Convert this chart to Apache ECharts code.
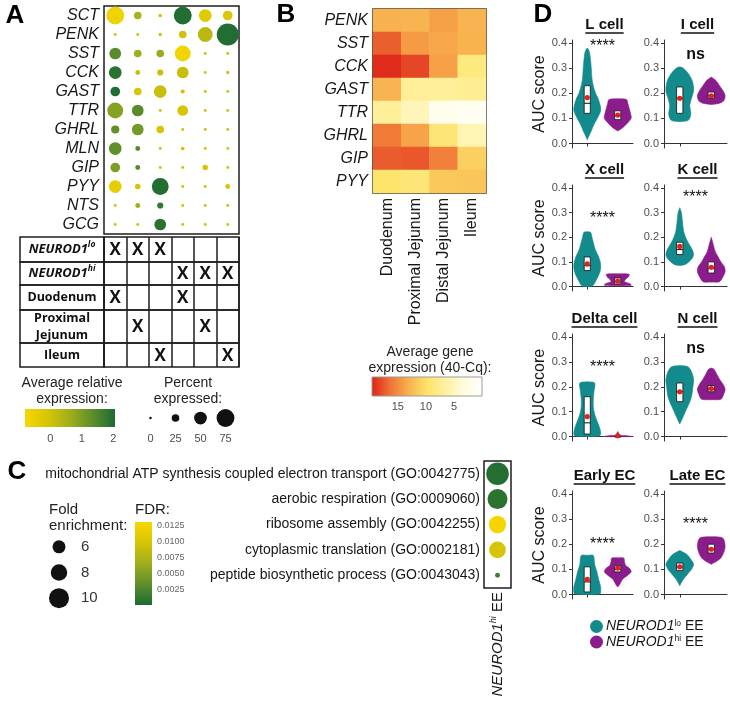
<!DOCTYPE html>
<html><head><meta charset="utf-8">
<script src="https://cdn.jsdelivr.net/npm/echarts@6/dist/echarts.min.js"></script>
<style>html,body{margin:0;padding:0;background:#fff}#c{width:730px;height:701px}</style>
</head><body><div id="c"></div>
<script>
// ---------------- DATA ----------------
// Panel A: dot plot
const dotGenes = ['SCT','PENK','SST','CCK','GAST','TTR','GHRL','MLN','GIP','PYY','NTS','GCG'];
const dotGroups = ['lo-Duodenum','lo-ProxJejunum','lo-Ileum','hi-Duodenum','hi-ProxJejunum','hi-Ileum'];
const dotExpr = [
  [-0.6, 0.5,-0.2, 2.0,-0.3,-0.2],
  [ 0.0, 0.0, 0.0, 0.0, 0.3, 2.0],
  [ 1.4, 0.6, 0.7,-0.7, 0.0, 0.0],
  [ 1.9, 0.1, 0.1, 0.1, 0.0, 0.0],
  [ 2.0,-0.1, 0.1, 0.0, 0.0, 0.0],
  [ 0.9, 1.4, 0.0,-0.1, 0.0, 0.0],
  [ 1.3, 1.1,-0.1, 0.0, 0.0, 0.0],
  [ 1.3, 1.4, 0.0, 0.0, 0.0, 0.0],
  [ 1.0, 1.4, 0.0, 0.0,-0.1, 0.0],
  [-0.4,-0.1, 2.0, 0.0, 0.0,-0.1],
  [ 0.0, 0.6, 1.8, 0.0, 0.0, 0.0],
  [ 0.0, 0.0, 1.9, 0.0, 0.0, 0.0]
];
const dotPct = [
  [75,25, 6,75,50,35],
  [ 2, 2, 4,25,60,95],
  [45,25,25,65, 2, 2],
  [50,12,18,45, 2, 4],
  [35,25,50, 8, 2, 2],
  [65,45, 2,40, 2, 2],
  [28,45,25, 2, 2, 2],
  [50,12, 2, 6, 2, 2],
  [35,12, 2, 2,15, 2],
  [50,15,70, 2, 2,12],
  [ 2,12,18, 2, 2, 2],
  [ 2, 2,45, 2, 2, 2]
];
const tableRows = ['NEUROD1lo','NEUROD1hi','Duodenum','Proximal Jejunum','Ileum'];
const tableMarks = [[0,0],[0,1],[0,2],[1,3],[1,4],[1,5],[2,0],[2,3],[3,1],[3,4],[4,2],[4,5]]; // [row, column]
const exprRange = [-0.8, 2.05];
const exprTicks = [0, 1, 2];
const pctTicks = [0, 25, 50, 75];

// Panel B: heatmap (40-Cq)
const hmGenes = ['PENK','SST','CCK','GAST','TTR','GHRL','GIP','PYY'];
const hmRegions = ['Duodenum','Proximal Jejunum','Distal Jejunum','Ileum'];
const hmValues = [
  [13.0,12.8,14.0,12.8],
  [17.2,14.2,13.6,12.9],
  [19.3,18.2,13.9, 8.5],
  [12.8, 7.0, 7.0, 7.3],
  [ 7.0, 5.2, 1.8, 1.2],
  [16.0,13.8, 9.0, 5.5],
  [17.3,17.5,15.7,11.0],
  [ 9.6, 9.0,11.5,11.7]
];
const hmRange = [0, 19.6];
const hmTicks = [15, 10, 5];

// Panel C: GO enrichment
const goTerms = [
  'mitochondrial ATP synthesis coupled electron transport (GO:0042775)',
  'aerobic respiration (GO:0009060)',
  'ribosome assembly (GO:0042255)',
  'cytoplasmic translation (GO:0002181)',
  'peptide biosynthetic process (GO:0043043)'
];
const goFold = [11.5, 10.0, 8.5, 8.1, 1.4];
const goFDR = [0.0005, 0.0008, 0.0128, 0.0098, 0.0018];
const foldTicks = [6, 8, 10];
const fdrRange = [0, 0.0131];
const fdrTicks = [0.0025, 0.0050, 0.0075, 0.0100, 0.0125];

// Panel D: AUC violins  (profile = [AUC, relative density width])
const dPanels = ['L cell','I cell','X cell','K cell','Delta cell','N cell','Early EC','Late EC'];
const dGroups = ['NEUROD1lo EE','NEUROD1hi EE'];
const violinLo = [
  [[0.015,0],[0.03,0.12],[0.05,0.3],[0.07,0.45],[0.1,0.75],[0.13,1],[0.15,0.97],[0.18,0.8],[0.2,0.62],[0.23,0.45],[0.26,0.35],[0.3,0.3],[0.33,0.25],[0.36,0.18],[0.375,0.08],[0.38,0]],
  [[0.087,0],[0.09,0.55],[0.1,0.72],[0.12,0.8],[0.15,0.72],[0.18,0.85],[0.21,1],[0.25,0.9],[0.28,0.6],[0.3,0.25],[0.305,0]],
  [[0,0],[0.003,0.4],[0.03,0.7],[0.06,0.95],[0.09,1],[0.12,0.85],[0.15,0.6],[0.18,0.45],[0.2,0.35],[0.22,0.25],[0.222,0]],
  [[0.085,0],[0.09,0.4],[0.1,0.65],[0.115,0.9],[0.13,1],[0.15,0.9],[0.17,0.7],[0.19,0.5],[0.22,0.3],[0.26,0.2],[0.3,0.12],[0.32,0]],
  [[0,0],[0.002,0.9],[0.01,1],[0.03,0.95],[0.06,0.75],[0.09,0.55],[0.12,0.45],[0.15,0.45],[0.18,0.5],[0.215,0.55],[0.22,0]],
  [[0.05,0],[0.08,0.25],[0.1,0.4],[0.13,0.65],[0.16,0.85],[0.2,0.95],[0.23,1],[0.26,0.85],[0.28,0.6],[0.285,0]],
  [[0,0],[0.002,0.95],[0.01,1],[0.03,1],[0.06,0.85],[0.09,0.72],[0.12,0.55],[0.155,0.45],[0.156,0]],
  [[0.035,0],[0.06,0.25],[0.08,0.55],[0.1,0.85],[0.12,1],[0.14,0.8],[0.16,0.5],[0.175,0]]
];
const violinHi = [
  [[0.05,0],[0.06,0.3],[0.08,0.7],[0.1,1],[0.12,0.95],[0.14,0.85],[0.16,0.75],[0.175,0.65],[0.178,0]],
  [[0.155,0],[0.16,0.6],[0.17,0.9],[0.19,1],[0.21,0.85],[0.23,0.6],[0.25,0.35],[0.265,0]],
  [[0.003,0],[0.005,1],[0.012,0.9],[0.02,0.5],[0.03,0.6],[0.04,0.8],[0.05,0.85],[0.052,0]],
  [[0.018,0],[0.02,0.6],[0.04,0.85],[0.06,1],[0.08,0.95],[0.1,0.7],[0.12,0.5],[0.14,0.3],[0.17,0.15],[0.2,0]],
  [[-0.001,0],[0,1],[0.003,0.7],[0.006,0.15],[0.02,0]],
  [[0.148,0],[0.15,0.7],[0.17,0.9],[0.19,1],[0.21,0.85],[0.23,0.6],[0.25,0.4],[0.27,0.2],[0.275,0]],
  [[0.03,0],[0.04,0.15],[0.06,0.35],[0.075,0.7],[0.09,1],[0.105,0.85],[0.115,0.6],[0.13,0.5],[0.145,0.45],[0.146,0]],
  [[0.12,0],[0.14,0.6],[0.16,0.85],[0.19,1],[0.22,0.9],[0.228,0.7],[0.23,0]]
];
// [q1, median, q3, mean]
const boxLo = [[0.12,0.16,0.23,0.183],[0.12,0.18,0.225,0.18],[0.065,0.085,0.12,0.092],[0.13,0.15,0.18,0.163],
               [0.01,0.055,0.16,0.08],[0.14,0.18,0.215,0.18],[0.01,0.05,0.11,0.06],[0.095,0.11,0.125,0.11]];
const boxHi = [[0.095,0.11,0.13,0.113],[0.18,0.19,0.205,0.19],[0.01,0.02,0.035,0.022],[0.055,0.075,0.1,0.078],
               [0,0,0.002,0.003],[0.18,0.19,0.205,0.193],[0.09,0.1,0.115,0.105],[0.165,0.18,0.2,0.18]];
const sigLabels = ['****','ns','****','****','****','ns','****','****'];
const sigY = [0.385,0.355,0.275,0.36,0.278,0.355,0.2,0.28];
const aucTicks = [0, 0.1, 0.2, 0.3, 0.4];

// ---------------- STYLE / LAYOUT ----------------
const FONT = '"Liberation Sans", Arial, sans-serif';
const TFONT = '"Open Sans", "Liberation Sans", sans-serif';
const TXT = '#161616';
const TICK = '#4d4d4d';
const A_COLORS = ['#f7d700','#d6c504','#a0ae1c','#5e8e2b','#1c6a33'];
const HM_COLORS = ['#fffffb','#fffbe0','#fff1a0','#fde36a','#f8b04e','#ef7436','#dd2418'];
const FDR_COLORS = A_COLORS.slice().reverse();
const TEAL = '#138a8c', PURPLE = '#8b1c8c';
const dotSize = p => 2.5 + 0.205 * p;
const foldSize = f => 2.5 + 1.75 * f;
const tableTop = 237, tableRowH = [25, 23, 25, 33, 24];

const grids = [], xAxes = [], yAxes = [], series = [], visualMaps = [], graphics = [];
function addGrid(g, x, y) {
  grids.push(Object.assign({containLabel: false}, g));
  const gi = grids.length - 1;
  xAxes.push(Object.assign({gridIndex: gi}, x));
  yAxes.push(Object.assign({gridIndex: gi}, y));
  return gi;
}
const offAxis = {axisLine: {show: false}, axisTick: {show: false}, axisLabel: {show: false}, splitLine: {show: false}};
const hiddenVal = {type: 'value', min: 0, max: 1, show: false};
const border = {show: true, borderColor: '#1e1e1e', borderWidth: 1.5, backgroundColor: 'transparent'};
const splitDark = {show: true, interval: 0, lineStyle: {color: '#1e1e1e', width: 1.5}};

function colorBarRender(colors, vertical, stroke) {
  return function (params, api) {
    const a = api.coord([api.value(0), api.value(2)]);
    const b = api.coord([api.value(1), api.value(3)]);
    const stops = colors.map((c, i) => ({offset: i / (colors.length - 1), color: c}));
    const grad = vertical
      ? new echarts.graphic.LinearGradient(0, a[1], 0, b[1], stops, true)
      : new echarts.graphic.LinearGradient(a[0], 0, b[0], 0, stops, true);
    return {type: 'rect', shape: {x: Math.min(a[0], b[0]), y: Math.min(a[1], b[1]), width: Math.abs(a[0] - b[0]), height: Math.abs(a[1] - b[1])},
      style: {fill: grad, stroke: stroke || null, lineWidth: 1}};
  };
}
function textEl(x, y, text, font, fill, align, va) {
  return {type: 'text', x: x, y: y, silent: true,
    style: {text: text, font: font, fill: fill || TXT, align: align || 'center', textAlign: align || 'center',
      verticalAlign: va || 'middle', textVerticalAlign: va || 'middle'}};
}

// ---------------- PANEL A ----------------
const gA = addGrid(Object.assign({left: 104, top: 6, width: 135, height: 228}, border),
  Object.assign({type: 'category', data: dotGroups}, offAxis),
  Object.assign({type: 'category', data: dotGenes, inverse: true}, offAxis,
    {axisLabel: {show: true, interval: 0, fontFamily: FONT, fontSize: 16, fontStyle: 'italic', color: TXT, margin: 5}}));
const dotData = [];
dotGenes.forEach((g, r) => dotGroups.forEach((c, ci) => dotData.push([ci, r, dotExpr[r][ci], dotPct[r][ci]])));
series.push({type: 'scatter', xAxisIndex: gA, yAxisIndex: gA, data: dotData, itemStyle: {opacity: 1},
  symbolSize: v => dotSize(v[3]), silent: true});
visualMaps.push({type: 'continuous', show: false, seriesIndex: series.length - 1, dimension: 2,
  min: exprRange[0], max: exprRange[1], inRange: {color: A_COLORS}});

const tabRich = {
  b: {fontFamily: TFONT, fontWeight: 'bold', fontStyle: 'italic', fontSize: 13, color: '#111', lineHeight: 18},
  s: {fontFamily: TFONT, fontWeight: 'bold', fontStyle: 'italic', fontSize: 8.5, color: '#111', lineHeight: 10, verticalAlign: 'top'},
  t: {fontFamily: TFONT, fontWeight: 'bold', fontSize: 12.5, color: '#111', lineHeight: 17}
};
function tabLabel(v) {
  if (v === 'NEUROD1lo') return '{b|NEUROD1}{s|lo}';
  if (v === 'NEUROD1hi') return '{b|NEUROD1}{s|hi}';
  return v.split(' ').map(w => '{t|' + w + '}').join('\n');
}
let rowTop = tableTop;
tableRows.forEach((rowName, r) => {
  const h = tableRowH[r];
  const gT = addGrid(Object.assign({left: 104, top: rowTop, width: 135, height: h}, border),
    Object.assign({type: 'category', data: dotGroups}, offAxis, {splitLine: splitDark}),
    Object.assign({type: 'category', data: [rowName]}, offAxis,
      {axisLabel: {show: true, interval: 0, align: 'center', margin: 42, formatter: tabLabel, rich: tabRich}}));
  addGrid(Object.assign({left: 20, top: rowTop, width: 84, height: h}, border),
    Object.assign({type: 'category', data: ['label']}, offAxis),
    Object.assign({type: 'category', data: [rowName]}, offAxis));
  series.push({type: 'custom', xAxisIndex: gT, yAxisIndex: gT, silent: true, encode: {x: 0, y: 1},
    data: tableMarks.filter(m => m[0] === r).map(m => [m[1], 0]),
    renderItem: (p, api) => {
      const pt = api.coord([api.value(0), api.value(1)]);
      return textEl(pt[0], pt[1] + 1, 'X', 'bold 17px ' + TFONT, '#111');
    }});
  rowTop += h;
});

// A legends
const gAc = addGrid({left: 25, top: 409, width: 90, height: 18},
  {type: 'value', min: exprRange[0], max: exprRange[1], axisLine: {show: false}, splitLine: {show: false},
    axisTick: {show: true, inside: true, length: 3, customValues: exprTicks, lineStyle: {color: '#fff', width: 1}},
    axisLabel: {show: true, customValues: exprTicks, fontFamily: FONT, fontSize: 11, color: TICK, margin: 6}},
  hiddenVal);
series.push({type: 'custom', xAxisIndex: gAc, yAxisIndex: gAc, silent: true, encode: {x: [0, 1], y: [2, 3]},
  data: [[exprRange[0], exprRange[1], 0, 1]], renderItem: colorBarRender(A_COLORS, false)});
const gAp = addGrid({left: 138, top: 409, width: 100, height: 18},
  Object.assign({type: 'category', data: pctTicks.map(String)}, offAxis,
    {axisLabel: {show: true, interval: 0, fontFamily: FONT, fontSize: 11, color: TICK, margin: 6}}),
  hiddenVal);
series.push({type: 'scatter', xAxisIndex: gAp, yAxisIndex: gAp, silent: true, itemStyle: {color: '#111', opacity: 1},
  data: pctTicks.map((p, i) => [i, 0.5, p]), symbolSize: v => dotSize(v[2])});

// ---------------- PANEL B ----------------
const gB = addGrid(Object.assign({left: 373, top: 9, width: 113, height: 184}, border),
  Object.assign({type: 'category', data: hmRegions}, offAxis,
    {axisLabel: {show: true, interval: 0, rotate: 90, fontFamily: FONT, fontSize: 16, color: TXT, margin: 5}}),
  Object.assign({type: 'category', data: hmGenes, inverse: true}, offAxis,
    {axisLabel: {show: true, interval: 0, fontFamily: FONT, fontSize: 16, fontStyle: 'italic', color: TXT, margin: 5}}));
const hmData = [];
hmGenes.forEach((g, r) => hmRegions.forEach((c, ci) => hmData.push([ci, r, hmValues[r][ci]])));
series.push({type: 'heatmap', xAxisIndex: gB, yAxisIndex: gB, data: hmData, silent: true, z: 1});
visualMaps.push({type: 'continuous', show: false, seriesIndex: series.length - 1, dimension: 2,
  min: hmRange[0], max: hmRange[1], inRange: {color: HM_COLORS}});
const gBc = addGrid({left: 372, top: 377, width: 110, height: 19},
  {type: 'value', min: hmRange[0], max: hmRange[1], inverse: true, axisLine: {show: false}, splitLine: {show: false},
    axisTick: {show: true, inside: true, length: 3, customValues: hmTicks, lineStyle: {color: '#fff'}},
    axisLabel: {show: true, customValues: hmTicks, fontFamily: FONT, fontSize: 11, color: TICK, margin: 5}},
  hiddenVal);
series.push({type: 'custom', xAxisIndex: gBc, yAxisIndex: gBc, silent: true, encode: {x: [0, 1], y: [2, 3]},
  data: [[hmRange[0], hmRange[1], 0, 1]], renderItem: colorBarRender(HM_COLORS, false, '#9a9a9a')});

// ---------------- PANEL C ----------------
const goRich = {
  i: {fontFamily: FONT, fontStyle: 'italic', fontSize: 15, color: TXT, lineHeight: 18},
  s: {fontFamily: FONT, fontStyle: 'italic', fontSize: 9, color: TXT, lineHeight: 10, verticalAlign: 'top'},
  n: {fontFamily: FONT, fontSize: 15, color: TXT, lineHeight: 18}
};
const gC = addGrid(Object.assign({left: 484, top: 461, width: 27, height: 127}, border),
  Object.assign({type: 'category', data: ['NEUROD1hi EE']}, offAxis,
    {axisLabel: {show: true, interval: 0, rotate: 90, margin: 4, formatter: () => '{i|NEUROD1}{s|hi}{n| EE}', rich: goRich}}),
  Object.assign({type: 'category', data: goTerms, inverse: true}, offAxis,
    {axisLabel: {show: true, interval: 0, fontFamily: FONT, fontSize: 14, color: TXT, margin: 4}}));
series.push({type: 'scatter', xAxisIndex: gC, yAxisIndex: gC, silent: true, itemStyle: {opacity: 1},
  data: goTerms.map((t, i) => [0, i, goFold[i], goFDR[i]]), symbolSize: v => foldSize(v[2])});
visualMaps.push({type: 'continuous', show: false, seriesIndex: series.length - 1, dimension: 3,
  min: fdrRange[0], max: fdrRange[1], inRange: {color: FDR_COLORS}});
const gCf = addGrid({left: 47, top: 534, width: 24, height: 77},
  Object.assign({type: 'category', data: ['fold']}, offAxis),
  Object.assign({type: 'category', data: foldTicks.map(String), inverse: true, position: 'right'}, offAxis,
    {axisLabel: {show: true, interval: 0, fontFamily: FONT, fontSize: 15, color: '#333', margin: 10}}));
series.push({type: 'scatter', xAxisIndex: gCf, yAxisIndex: gCf, silent: true, itemStyle: {color: '#111', opacity: 1},
  data: foldTicks.map((f, i) => [0, i, f]), symbolSize: v => foldSize(v[2])});
const gCd = addGrid({left: 135, top: 522, width: 17, height: 83},
  hiddenVal,
  {type: 'value', min: fdrRange[0], max: fdrRange[1], position: 'right', axisLine: {show: false}, splitLine: {show: false},
    axisTick: {show: true, inside: true, length: 3, customValues: fdrTicks, lineStyle: {color: '#fff'}},
    axisLabel: {show: true, customValues: fdrTicks, formatter: v => v.toFixed(4), fontFamily: FONT, fontSize: 9, color: '#666', margin: 5}});
series.push({type: 'custom', xAxisIndex: gCd, yAxisIndex: gCd, silent: true, encode: {x: [0, 1], y: [2, 3]},
  data: [[0, 1, fdrRange[0], fdrRange[1]]], renderItem: colorBarRender(FDR_COLORS, true)});

// ---------------- PANEL D ----------------
const dLeft = [572, 664], dWidth = [61, 63], dTop = [40, 185, 334, 491], dHeight = [108, 106, 107, 108];
function violinRender(profile, box, color) {
  return function (params, api) {
    const cat = api.value(0);
    const band = api.size([1, 0])[0];
    const hw = band * 0.44, bw = band * 0.1;
    const right = [], left = [];
    profile.forEach(([y, w]) => {
      const p = api.coord([cat, y]);
      right.push([p[0] + w * hw, p[1]]);
      left.push([p[0] - w * hw, p[1]]);
    });
    const pts = right.concat(left.reverse());
    const cx = api.coord([cat, 0])[0];
    const q1 = api.coord([cat, box[0]])[1], md = api.coord([cat, box[1]])[1];
    const q3 = api.coord([cat, box[2]])[1], mn = api.coord([cat, box[3]])[1];
    return {type: 'group', children: [
      {type: 'polygon', shape: {points: pts, smooth: 0.3}, style: {fill: color, stroke: color, lineWidth: 0.6}},
      {type: 'rect', shape: {x: cx - bw, y: q3, width: 2 * bw, height: Math.max(q1 - q3, 1)}, style: {fill: '#fff', stroke: '#111', lineWidth: 0.8}},
      {type: 'line', shape: {x1: cx - bw, y1: md, x2: cx + bw, y2: md}, style: {stroke: '#111', lineWidth: 1}},
      {type: 'circle', shape: {cx: cx, cy: mn, r: 2.6}, style: {fill: '#e3211c'}}
    ]};
  };
}
const measureCtx = document.createElement('canvas').getContext('2d');
dPanels.forEach((name, k) => {
  const col = k % 2, row = Math.floor(k / 2);
  const gi = addGrid({left: dLeft[col], top: dTop[row], width: dWidth[col], height: dHeight[row]},
    {type: 'category', data: dGroups, axisLine: {show: true, lineStyle: {color: '#333', width: 1}},
      axisTick: {show: true, alignWithLabel: true, length: 3, lineStyle: {color: '#333'}}, axisLabel: {show: false}, splitLine: {show: false}},
    Object.assign({type: 'value', min: -0.018, max: 0.412, splitLine: {show: false},
      axisLine: {show: true, lineStyle: {color: '#333', width: 1}},
      axisTick: {show: true, length: 3, customValues: aucTicks, lineStyle: {color: '#333'}},
      axisLabel: {show: true, customValues: aucTicks, formatter: v => v.toFixed(1), fontFamily: FONT, fontSize: 11, color: TICK, margin: 5}},
      col === 0 ? {name: 'AUC score', nameLocation: 'middle', nameGap: 22, nameTextStyle: {fontFamily: FONT, fontSize: 16, color: TXT}} : {}));
  [violinLo[k], violinHi[k]].forEach((prof, g) => {
    const box = g === 0 ? boxLo[k] : boxHi[k];
    series.push({type: 'custom', name: dGroups[g], xAxisIndex: gi, yAxisIndex: gi, silent: true,
      itemStyle: {color: g === 0 ? TEAL : PURPLE}, encode: {x: 0, y: 1},
      data: [[g, box[3]]], renderItem: violinRender(prof, box, g === 0 ? TEAL : PURPLE)});
  });
  series.push({type: 'custom', xAxisIndex: gi, yAxisIndex: gi, silent: true, encode: {x: 0, y: 1},
    data: [[0, sigY[k]]], z: 5,
    renderItem: (p, api) => {
      const a = api.coord([0, api.value(1)]), b = api.coord([1, api.value(1)]);
      return textEl((a[0] + b[0]) / 2, a[1], sigLabels[k], (sigLabels[k] === 'ns' ? 'bold ' : '') + '16px ' + FONT, '#111');
    }});
  const cx = dLeft[col] + dWidth[col] / 2 + 2, cy = dTop[row] - 15;
  const tf = 'bold 15px ' + FONT;
  measureCtx.font = tf;
  const w = measureCtx.measureText(name).width;
  graphics.push(textEl(cx, cy, name, tf, '#111'));
  graphics.push({type: 'line', silent: true, shape: {x1: cx - w / 2, y1: cy + 8, x2: cx + w / 2, y2: cy + 8}, style: {stroke: '#111', lineWidth: 1.5}});
});

// ---------------- TEXT ----------------
const LET = 'bold 26px ' + FONT;
graphics.push(textEl(15, 16, 'A', LET, '#000'));
graphics.push(textEl(286, 15, 'B', LET, '#000'));
graphics.push(textEl(17, 472, 'C', LET, '#000'));
graphics.push(textEl(543, 15, 'D', LET, '#000'));
const LF = '14px ' + FONT;
graphics.push(textEl(72, 383, 'Average relative', LF, '#222'));
graphics.push(textEl(72, 399, 'expression:', LF, '#222'));
graphics.push(textEl(188, 383, 'Percent', LF, '#222'));
graphics.push(textEl(188, 399, 'expressed:', LF, '#222'));
graphics.push(textEl(430, 352, 'Average gene', LF, '#222'));
graphics.push(textEl(430, 368, 'expression (40-Cq):', LF, '#222'));
graphics.push(textEl(49, 510, 'Fold', '15px ' + FONT, '#222', 'left'));
graphics.push(textEl(49, 526, 'enrichment:', '15px ' + FONT, '#222', 'left'));
graphics.push(textEl(135, 510, 'FDR:', '15px ' + FONT, '#222', 'left'));

const legRich = {
  i: {fontFamily: FONT, fontStyle: 'italic', fontSize: 14, color: TXT, lineHeight: 15},
  s: {fontFamily: FONT, fontSize: 8.5, color: TXT, lineHeight: 8, verticalAlign: 'top'},
  n: {fontFamily: FONT, fontSize: 14, color: TXT, lineHeight: 15}
};

const chart = echarts.init(document.getElementById('c'), null, {renderer: 'canvas'});
chart.setOption({
  animation: false,
  backgroundColor: '#fff',
  textStyle: {fontFamily: FONT},
  grid: grids, xAxis: xAxes, yAxis: yAxes, series: series, visualMap: visualMaps,
  legend: {data: dGroups, orient: 'vertical', left: 585, top: 614, itemWidth: 13, itemHeight: 13, itemGap: 1,
    icon: 'circle', selectedMode: false,
    formatter: n => n === dGroups[0] ? '{i|NEUROD1}{s|lo}{n| EE}' : '{i|NEUROD1}{s|hi}{n| EE}',
    textStyle: {rich: legRich, padding: [0, 0, 0, -2]}},
  graphic: {elements: graphics}
});
</script></body></html>
